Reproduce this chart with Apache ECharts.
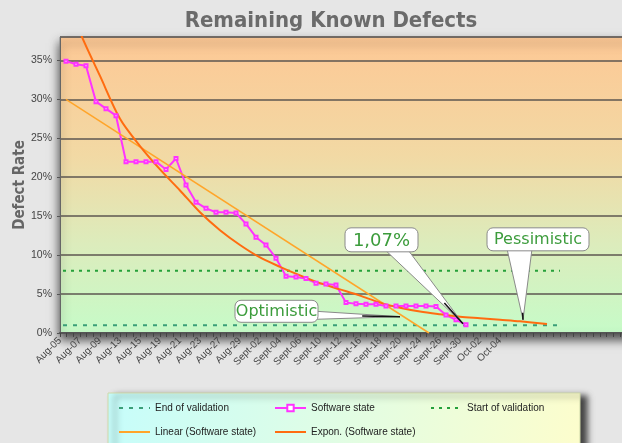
<!DOCTYPE html>
<html>
<head>
<meta charset="utf-8">
<script src="https://cdn.jsdelivr.net/npm/echarts@6/dist/echarts.min.js"></script>
<style>
html, body { margin: 0; padding: 0; background: #e6e6e6; }
#chart { width: 622px; height: 443px; }
</style>
</head>
<body>
<div id="chart"></div>
<script>
// x labels, one every second measurement
const dateLabels = ['Aug-05', 'Aug-07', 'Aug-09', 'Aug-13', 'Aug-15', 'Aug-19', 'Aug-21', 'Aug-23',
    'Aug-27', 'Aug-29', 'Sept-02', 'Sept-04', 'Sept-06', 'Sept-10', 'Sept-12', 'Sept-16', 'Sept-18',
    'Sept-20', 'Sept-24', 'Sept-26', 'Sept-30', 'Oct-02', 'Oct-04'];

// defect rate (%) per measurement
const softwareState = [34.9, 34.5, 34.3, 29.7, 28.8, 27.9, 22.0, 22.0, 22.0, 22.0, 21.0, 22.4, 19.0,
    16.8, 16.0, 15.5, 15.5, 15.4, 14.0, 12.3, 11.3, 9.6, 7.3, 7.2, 7.0, 6.4, 6.3, 6.15, 3.9, 3.75,
    3.7, 3.7, 3.46, 3.46, 3.46, 3.46, 3.46, 3.4, 2.3, 1.7, 1.07];
const firstPoint = 0.6;   // x position of the first measurement

// trend lines: [x, %]
const linearTrend = [[0.6, 30.0], [36.9, 0]];
const exponTrend = [[1.6, 40.5], [2, 38.6], [4, 33.0], [6, 27.5], [8, 24.0], [10, 21.0], [12, 18.3],
    [14, 15.5], [16, 13.2], [18, 11.3], [20, 9.7], [22, 8.5], [24, 7.4], [26, 6.4], [28, 5.6],
    [30, 4.8], [32, 3.9], [34, 3.25], [36, 2.75], [38, 2.4], [40, 2.1], [42, 1.9], [44, 1.7],
    [46, 1.5], [48.7, 1.15]];

const startValidation = 8;
const endValidation = 1;
const validationSpan = [0.3, 50];

const callouts = [
    { text: '1,07%', size: 18, box: [28.5, 13.5], w: 73, h: 24, base: [[40, 22], [63, 22]], tip: [40.3, 1.2], dark: 0.72 },
    { text: 'Pessimistic', size: 16, box: [42.7, 13.5], w: 102, h: 23, base: [[20, 21], [45, 21]], tip: [46.3, 1.7], dark: 0.9 },
    { text: 'Optimistic', size: 16, box: [17.5, 4.2], w: 83, h: 22, base: [[81, 11], [81, 19]], tip: [34, 2.1], dark: 0.55 }
];

const chart = echarts.init(document.getElementById('chart'));
const labelFont = 'Liberation Sans';

const softwareData = softwareState.map((v, i) => [firstPoint + i, v]);

const plotBg = new echarts.graphic.LinearGradient(0, 0, 0, 1, [
    { offset: 0, color: '#fdc895' },
    { offset: 0.4, color: '#f2d9a4' },
    { offset: 0.7, color: '#dcecbc' },
    { offset: 1, color: '#c6fbc8' }
]);

const legendBase = {
    orient: 'vertical', top: 403, itemWidth: 31, itemHeight: 8, itemGap: 14, padding: 0,
    selectedMode: false,
    textStyle: { fontSize: 10, color: '#222', fontFamily: labelFont }
};
const noDot = name => ({ name, itemStyle: { opacity: 0 } });

chart.setOption({
    backgroundColor: '#e6e6e6',
    animation: false,
    grid: {
        left: 60, top: 37, width: 592, bottom: 110, show: true,
        outerBoundsMode: 'none', containLabel: false,
        backgroundColor: plotBg, borderColor: '#8a8a8a', borderWidth: 1,
        shadowColor: 'rgba(0,0,0,0.7)', shadowBlur: 10, shadowOffsetY: 6
    },
    legend: [
        { ...legendBase, left: 118, data: [noDot('End of validation'), noDot('Linear (Software state)')] },
        { ...legendBase, left: 274, data: ['Software state', noDot('Expon. (Software state)')] },
        { ...legendBase, left: 430, data: [noDot('Start of validation')] }
    ],
    xAxis: {
        type: 'value', min: 0, max: 59.2, interval: 2,
        axisLine: { show: true, lineStyle: { color: '#555', width: 2 } },
        axisTick: { show: true, length: 4, lineStyle: { color: '#444' } },
        minorTick: { show: true, splitNumber: 3, length: 4, lineStyle: { color: '#444' } },
        splitLine: { show: false },
        axisLabel: {
            rotate: 45, fontSize: 10, color: '#444', fontFamily: labelFont, margin: 6,
            showMaxLabel: false,
            formatter: v => dateLabels[Math.round(v / 2)] || ''
        }
    },
    yAxis: {
        type: 'value', min: 0, max: 38, interval: 5,
        name: 'Defect Rate', nameLocation: 'middle', nameGap: 32, nameMoveOverlap: false,
        nameTextStyle: { fontSize: 15, fontWeight: 'bold', color: '#666', fontFamily: 'DejaVu Sans Condensed, DejaVu Sans' },
        axisLine: { show: true, lineStyle: { color: '#666', width: 1 } },
        axisTick: { show: true, length: 3, lineStyle: { color: '#555' } },
        splitLine: { lineStyle: { color: '#5c5650', width: 1.5 } },
        axisLabel: { fontSize: 10.5, color: '#444', fontFamily: labelFont, margin: 8, formatter: '{value}%', showMaxLabel: false }
    },
    series: [
        {
            name: 'End of validation', type: 'line', symbol: 'none',
            data: validationSpan.map(x => [x, endValidation]),
            itemStyle: { color: '#3a9f78' },
            lineStyle: { color: '#3a9f78', width: 2, type: [4, 6] }
        },
        {
            name: 'Software state', type: 'line', data: softwareData,
            symbol: 'emptyRect', symbolSize: 3,
            itemStyle: { color: '#ff33ff', borderWidth: 1 },
            lineStyle: { color: '#ff33ff', width: 2 }
        },
        {
            name: 'Start of validation', type: 'line', symbol: 'none',
            data: validationSpan.map(x => [x, startValidation]),
            itemStyle: { color: '#25a03a' },
            lineStyle: { color: '#25a03a', width: 2, type: [3, 5] }
        },
        {
            name: 'Linear (Software state)', type: 'line', symbol: 'none', data: linearTrend,
            itemStyle: { color: '#ffa52a' },
            lineStyle: { color: '#ffa52a', width: 1.5 }
        },
        {
            name: 'Expon. (Software state)', type: 'line', symbol: 'none', data: exponTrend,
            smooth: 0.3,
            itemStyle: { color: '#ff6c10' },
            lineStyle: { color: '#ff6c10', width: 2 }
        }
    ]
});

/* ========== 标注 / 图例框 / 标题 ========== */
function buildGraphics() {
    const els = [];
    els.push({
        type: 'text', id: 'title', x: 331, y: 21, z: 10,
        style: {
            text: 'Remaining Known Defects', fill: '#6b6b6b', fontSize: 22, fontWeight: 'bold',
            fontFamily: 'DejaVu Sans Condensed, DejaVu Sans', align: 'center', verticalAlign: 'middle'
        }
    });
    els.push({
        type: 'rect', id: 'legendBox', z: 0,
        shape: { x: 108, y: 393, width: 472, height: 70 },
        style: {
            fill: new echarts.graphic.LinearGradient(0, 0, 1, 1, [
                { offset: 0, color: '#c6fdfb' }, { offset: 1, color: '#fdfdcc' }
            ]),
            stroke: '#cfd8a8', lineWidth: 1,
            shadowColor: 'rgba(0,0,0,0.7)', shadowBlur: 6, shadowOffsetX: 7, shadowOffsetY: 3
        }
    });
    callouts.forEach((c, k) => {
        const [bx, by] = chart.convertToPixel({ gridIndex: 0 }, c.box);
        const [tx, ty] = chart.convertToPixel({ gridIndex: 0 }, c.tip);
        const b1 = [bx + c.base[0][0], by + c.base[0][1]];
        const b2 = [bx + c.base[1][0], by + c.base[1][1]];
        const mid = [(b1[0] + b2[0]) / 2, (b1[1] + b2[1]) / 2];
        const dk = [mid[0] + (tx - mid[0]) * c.dark, mid[1] + (ty - mid[1]) * c.dark];
        els.push({
            type: 'polygon', id: 'ptr' + k, z: 20,
            shape: { points: [b1, [tx, ty], b2] },
            style: { fill: '#fff', stroke: '#8a8a8a', lineWidth: 1 }
        });
        els.push({
            type: 'line', id: 'dark' + k, z: 21,
            shape: { x1: dk[0], y1: dk[1], x2: tx, y2: ty },
            style: { stroke: '#111', lineWidth: 1.5 }
        });
        els.push({
            type: 'rect', id: 'box' + k, z: 22,
            shape: { x: bx, y: by, width: c.w, height: c.h, r: 6 },
            style: { fill: '#fff', stroke: '#8a8a8a', lineWidth: 1 }
        });
        els.push({
            type: 'text', id: 'txt' + k, z: 23,
            x: bx + c.w / 2, y: by + c.h / 2 + 1,
            style: {
                text: c.text, fill: '#3c9c3c', fontSize: c.size, fontFamily: 'DejaVu Sans',
                align: 'center', verticalAlign: 'middle'
            }
        });
    });
    return els;
}

chart.setOption({ graphic: buildGraphics() });
window.onresize = () => { chart.resize(); chart.setOption({ graphic: buildGraphics() }); };
</script>
</body>
</html>
